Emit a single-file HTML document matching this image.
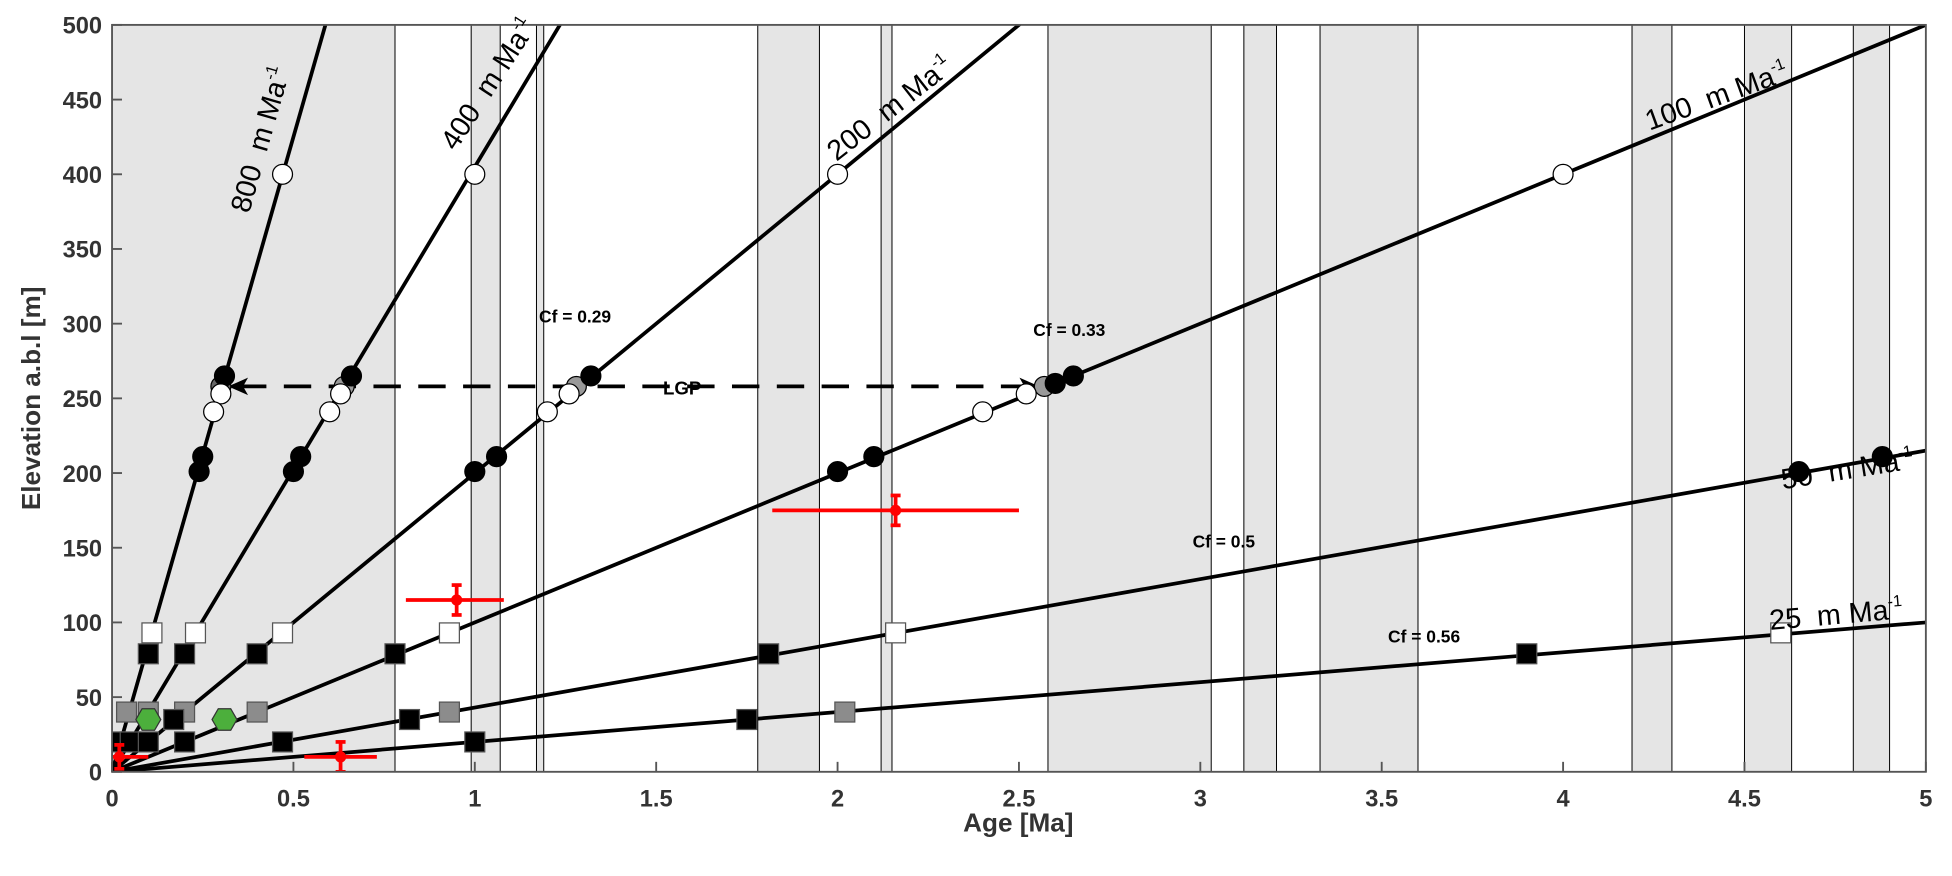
<!DOCTYPE html>
<html><head><meta charset="utf-8"><style>
body{margin:0;background:#fff;}
svg{display:block;font-family:"Liberation Sans",sans-serif;}
</style></head><body>
<svg id="chart" width="1952" height="876" viewBox="0 0 1568 703.7" preserveAspectRatio="none"></svg>
<script>
const bands=[[0,0.78],[0.99,1.07],[1.17,1.19],[1.78,1.95],[2.12,2.15],[2.58,3.03],[3.12,3.21],[3.33,3.60],[4.19,4.30],[4.50,4.63],[4.80,4.90]];
const rates=[800,400,200,100,50,25];
const lineSlopes=[850,405,200,100,43,20];
const xTicks=[0,0.5,1,1.5,2,2.5,3,3.5,4,4.5,5];
const yTicks=[0,50,100,150,200,250,300,350,400,450,500];
const circAge=[0.47,0.31,0.30,0.28,0.25,0.24, 1.0,0.66,0.63,0.60,0.52,0.50, 2.0,1.32,1.26,1.20,1.06,1.0, 4.0,2.65,2.60,2.52,2.40,2.10,2.0, 4.65,4.88];
const circElev=[400,265,253,241,211,201, 400,265,253,241,211,201, 400,265,253,241,211,201, 400,265,260,253,241,211,201, 201,211];
const circFill=['w','k','w','w','k','k','w','k','w','w','k','k','w','k','w','w','k','k','w','k','k','w','w','k','k','k','k'];
const greyCircAge=[0.30,0.64,1.28,2.57];
const greyCircElev=[258,258,258,258];
const sqAge=[0.11,0.23,0.47,0.93,2.16,4.6, 0.10,0.2,0.4,0.78,1.81,3.9, 0.04,0.10,0.2,0.4,0.93,2.02, 0.17,0.82,1.75, 0.01,0.05,0.1,0.2,0.47,1.0];
const sqElev=[93,93,93,93,93,93, 79,79,79,79,79,79, 40,40,40,40,40,40, 35,35,35, 20,20,20,20,20,20];
const sqFill=['w','w','w','w','w','w','k','k','k','k','k','k','g','g','g','g','g','g','k','k','k','k','k','k','k','k','k'];
const hexAge=[0.1,0.31];
const hexElev=[35,35];
const errAge=[0.95,2.16,0.63,0.02];
const errElev=[115,175,10,10];
const errXlo=[0.81,1.82,0.53,0];
const errXhi=[1.08,2.5,0.73,0.1];
const errY=[10,10,10,8];

const X0=90,X1=1547,Y0=620,Y1=20;
const sx=a=>X0+(X1-X0)*a/5, sy=e=>Y0-(Y0-Y1)*e/500;
const svg=document.getElementById('chart');
const NS='http://www.w3.org/2000/svg';
function mk(tag,attrs,parent){const el=document.createElementNS(NS,tag);for(const k in attrs)el.setAttribute(k,attrs[k]);(parent||svg).appendChild(el);return el;}
const defs=mk('defs',{});const cp=mk('clipPath',{id:'pc'},defs);mk('rect',{x:X0,y:Y1,width:X1-X0,height:Y0-Y1},cp);
const plot=mk('g',{'clip-path':'url(#pc)'});

bands.forEach(b=>{const r=mk('rect',{x:sx(b[0]),y:Y1,width:sx(b[1])-sx(b[0]),height:Y0-Y1,fill:'#e5e5e5',stroke:'#000','stroke-width':0.8},plot);

});
lineSlopes.forEach((r,i)=>{const l=mk('line',{x1:sx(0),y1:sy(0),x2:sx(5),y2:sy(r*5),stroke:'#000','stroke-width':3},plot);

});
const lg=mk('line',{x1:sx(0.35),y1:sy(258),x2:sx(2.52),y2:sy(258),stroke:'#000','stroke-width':3,'stroke-dasharray':'22,14'},plot);


mk('path',{d:`M${sx(0.32)},${sy(258)} l16,-7 l-4,7 l4,7z`,fill:'#000'},plot);
mk('path',{d:`M${sx(2.57)-4},${sy(258)} l-16,-7 l4,7 l-4,7z`,fill:'#000'},plot);
const fills={w:'#fff',k:'#000',g:'#8c8c8c'};
greyCircAge.forEach((a,i)=>{const c=mk('circle',{cx:sx(a),cy:sy(greyCircElev[i]),r:8,fill:i==0?'#666':'#999',stroke:'#000','stroke-width':1},plot);

});
circAge.forEach((a,i)=>{const c=mk('circle',{cx:sx(a),cy:sy(circElev[i]),r:8,fill:fills[circFill[i]],stroke:'#000','stroke-width':1},plot);

});
sqAge.forEach((a,i)=>{const c=mk('rect',{x:sx(a)-8,y:sy(sqElev[i])-8,width:16,height:16,fill:fills[sqFill[i]],stroke:'#555','stroke-width':1},plot);

});
hexAge.forEach((a,i)=>{const cx=sx(a),cy=sy(hexElev[i]);let p='';for(let k=0;k<6;k++){const t=Math.PI/3*k;p+=(cx+10*Math.cos(t))+','+(cy+10*Math.sin(t))+' ';}
const h=mk('polygon',{points:p,fill:'#4caf3c',stroke:'#333','stroke-width':1},plot);

});
errAge.forEach((a,i)=>{const g=mk('g',{stroke:'#f00','stroke-width':3},plot);


const cx=sx(a),cy=sy(errElev[i]);
mk('line',{x1:sx(errXlo[i]),y1:cy,x2:sx(errXhi[i]),y2:cy},g);
mk('line',{x1:cx,y1:sy(errElev[i]+errY[i]),x2:cx,y2:sy(errElev[i]-errY[i])},g);
mk('line',{x1:cx-4,y1:sy(errElev[i]+errY[i]),x2:cx+4,y2:sy(errElev[i]+errY[i])},g);
mk('line',{x1:cx-4,y1:sy(errElev[i]-errY[i]),x2:cx+4,y2:sy(errElev[i]-errY[i])},g);
mk('circle',{cx:cx,cy:cy,r:3,fill:'#f00'},g);});
const ax=mk('rect',{x:X0,y:Y1,width:X1-X0,height:Y0-Y1,fill:'none',stroke:'#555','stroke-width':1.5});

xTicks.forEach(t=>{mk('line',{x1:sx(t),y1:Y0,x2:sx(t),y2:Y0-8,stroke:'#555','stroke-width':1.5});
const tx=mk('text',{x:sx(t),y:Y0+28,'text-anchor':'middle','font-size':19,'font-weight':'bold',fill:'#333'});tx.textContent=t;

});
yTicks.forEach(t=>{mk('line',{x1:X0,y1:sy(t),x2:X0+8,y2:sy(t),stroke:'#555','stroke-width':1.5});
const tx=mk('text',{x:X0-8,y:sy(t)+7,'text-anchor':'end','font-size':19,'font-weight':'bold',fill:'#333'});tx.textContent=t;

});
function txt(s,x,y,attrs,name){const t=mk('text',Object.assign({x:x,y:y},attrs));t.innerHTML=s;return t;}
txt('Age [Ma]',818,668,{'text-anchor':'middle','font-size':21,'font-weight':'bold',fill:'#333'},'x-axis-title');
txt('Elevation a.b.l [m]',32,320,{'text-anchor':'middle','font-size':21,'font-weight':'bold',fill:'#333',transform:'rotate(-90 32 320)'},'y-axis-title');
const rl=[['800',200,172,-74],['400',366,122,-57],['200',672,130,-38],['100',1325,105,-20],['50',1432,393,-9],['25',1422,506,-5]];
rl.forEach(r=>txt(`${r[0]}&#160; m Ma<tspan font-size="13" dy="-10">-1</tspan>`,r[1],r[2],{'font-size':23,fill:'#000',transform:`rotate(${r[3]} ${r[1]} ${r[2]})`},'rate-label-'+r[0]));
txt('Cf = 0.29',433,259,{'font-size':14,'font-weight':'bold'},'cf-label');
txt('Cf = 0.33',830,270,{'font-size':14,'font-weight':'bold'},'cf-label');
txt('Cf = 0.5',958,440,{'font-size':14,'font-weight':'bold'},'cf-label');
txt('Cf = 0.56',1115,516,{'font-size':14,'font-weight':'bold'},'cf-label');
txt('LGP',548,317,{'font-size':15,'font-weight':'bold','text-anchor':'middle'},'lgp-label');
</script>
</body></html>
